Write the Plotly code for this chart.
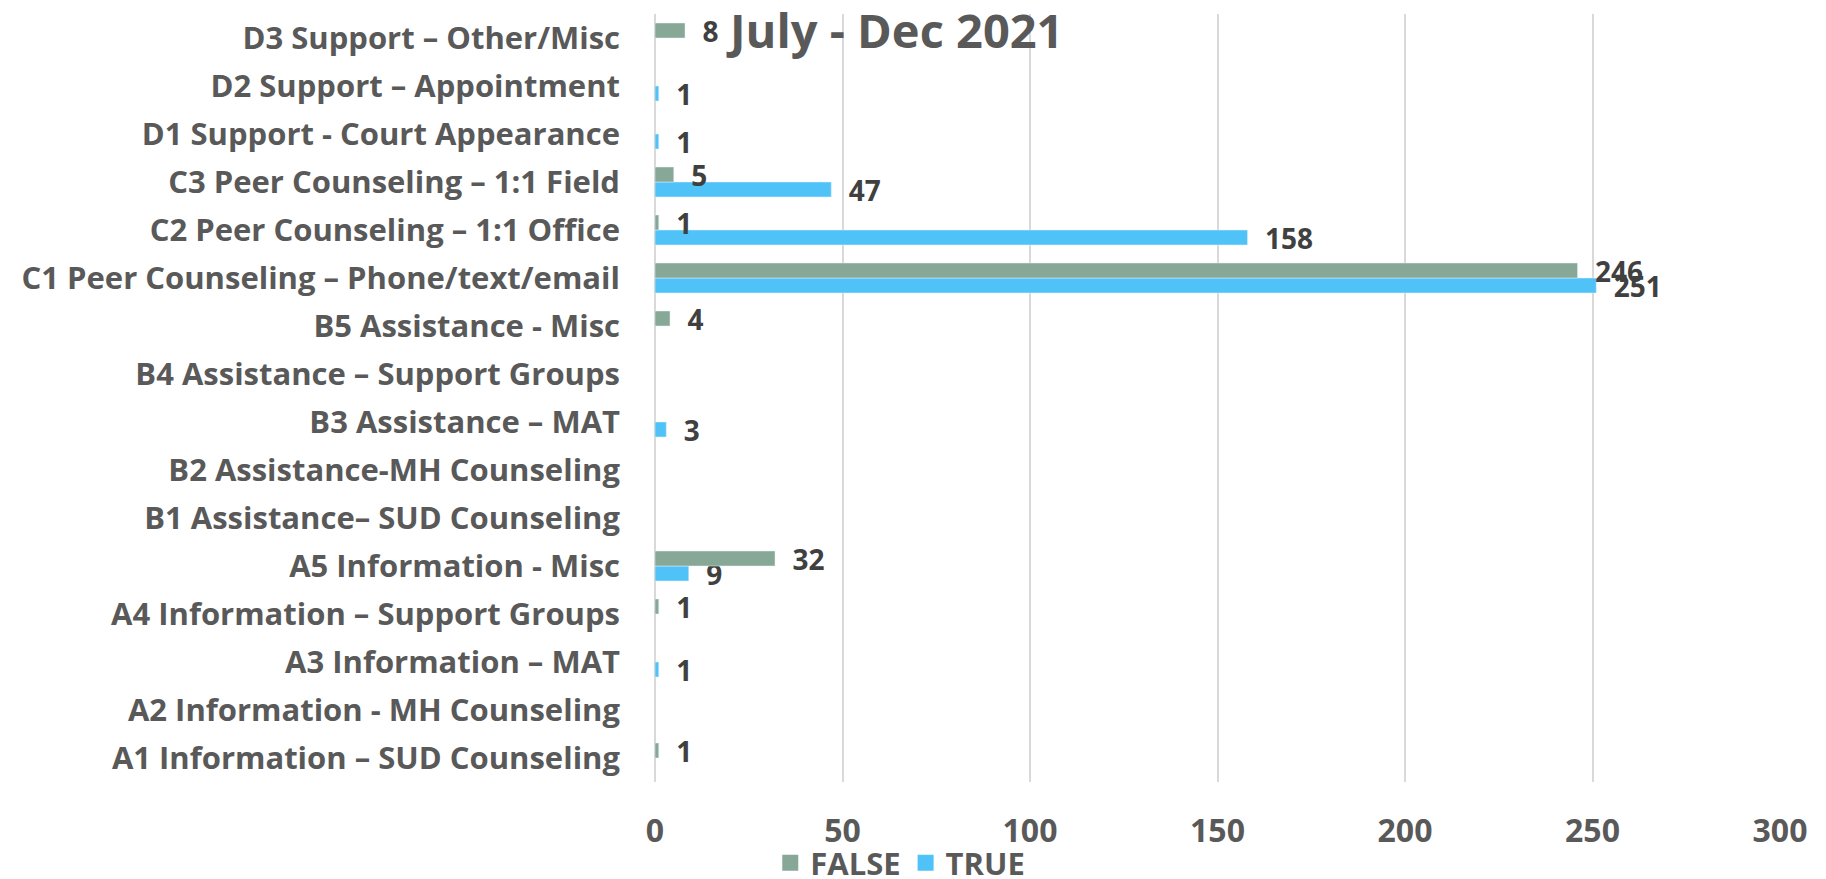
import plotly.graph_objects as go

categories = [
    "A1 Information – SUD Counseling",
    "A2 Information - MH Counseling",
    "A3 Information – MAT",
    "A4 Information – Support Groups",
    "A5 Information - Misc",
    "B1 Assistance– SUD Counseling",
    "B2 Assistance-MH Counseling",
    "B3 Assistance – MAT",
    "B4 Assistance – Support Groups",
    "B5 Assistance - Misc",
    "C1 Peer Counseling – Phone/text/email",
    "C2 Peer Counseling – 1:1 Office",
    "C3 Peer Counseling – 1:1 Field",
    "D1 Support - Court Appearance",
    "D2 Support – Appointment",
    "D3 Support – Other/Misc",
]
false_values = [1, None, None, 1, 32, None, None, None, None, 4, 246, 1, 5, None, None, 8]
true_values = [None, None, 1, None, 9, None, None, 3, None, None, 251, 158, 47, 1, 1, None]
x_ticks = [0, 50, 100, 150, 200, 250, 300]
title_text = "July - Dec 2021"

FONT = "Open Sans"
GREEN = "#87A896"
BLUE = "#4FC3F7"
LABEL_FONT = dict(family=FONT, size=28, color="#404040", weight="bold")

fig = go.Figure()
fig.add_trace(go.Bar(
    y=categories, x=true_values, name="TRUE", orientation="h",
    marker=dict(color=BLUE), showlegend=False,
    text=true_values, texttemplate="  %{x}", textposition="outside",
    textfont=LABEL_FONT, cliponaxis=False, constraintext="none",
))
fig.add_trace(go.Bar(
    y=categories, x=false_values, name="FALSE", orientation="h",
    marker=dict(color=GREEN), showlegend=False,
    text=false_values, texttemplate="  %{x}", textposition="outside",
    textfont=LABEL_FONT, cliponaxis=False, constraintext="none",
))
# legend entries with larger square swatches
for name, color, rank in [("FALSE", GREEN, 1), ("TRUE", BLUE, 2)]:
    fig.add_trace(go.Scatter(
        x=[None], y=[None], mode="markers", name=name, legendrank=rank,
        marker=dict(symbol="square", size=21, color=color), hoverinfo="skip",
    ))

W, H = 1810, 871
fig.update_layout(
    width=W, height=H,
    margin=dict(l=647, r=38, t=6, b=97),
    plot_bgcolor="white", paper_bgcolor="white",
    barmode="group", bargap=0.375, bargroupgap=0,
    font=dict(family=FONT, color="#595959"),
    showlegend=True,
    legend=dict(orientation="h", x=0.218, xanchor="center",
                yref="container", y=(H - 855) / H, yanchor="middle",
                bgcolor="rgba(0,0,0,0)",
                font=dict(family=FONT, size=31, color="#595959", weight="bold"),
                traceorder="normal", itemwidth=30),
    annotations=[dict(text=title_text, x=0.213, y=0.979,
                      xref="paper", yref="paper", xanchor="center", yanchor="middle",
                      showarrow=False,
                      font=dict(family=FONT, size=47, color="#595959", weight="bold"))],
)

fig.update_xaxes(range=[0, 300], tickvals=x_ticks, showgrid=True, gridcolor="#D9D9D9",
                 gridwidth=1.5, zeroline=True, zerolinecolor="#D9D9D9", zerolinewidth=1.5,
                 showline=False, ticklabelstandoff=27, automargin=False,
                 tickfont=dict(family=FONT, size=32, color="#595959", weight="bold"))
fig.update_yaxes(type="category", categoryorder="array", categoryarray=categories,
                 showgrid=False, showline=False, ticklabelstandoff=34, automargin=False,
                 tickfont=dict(family=FONT, size=31, color="#595959", weight="bold"))

fig.write_html("out.html")
